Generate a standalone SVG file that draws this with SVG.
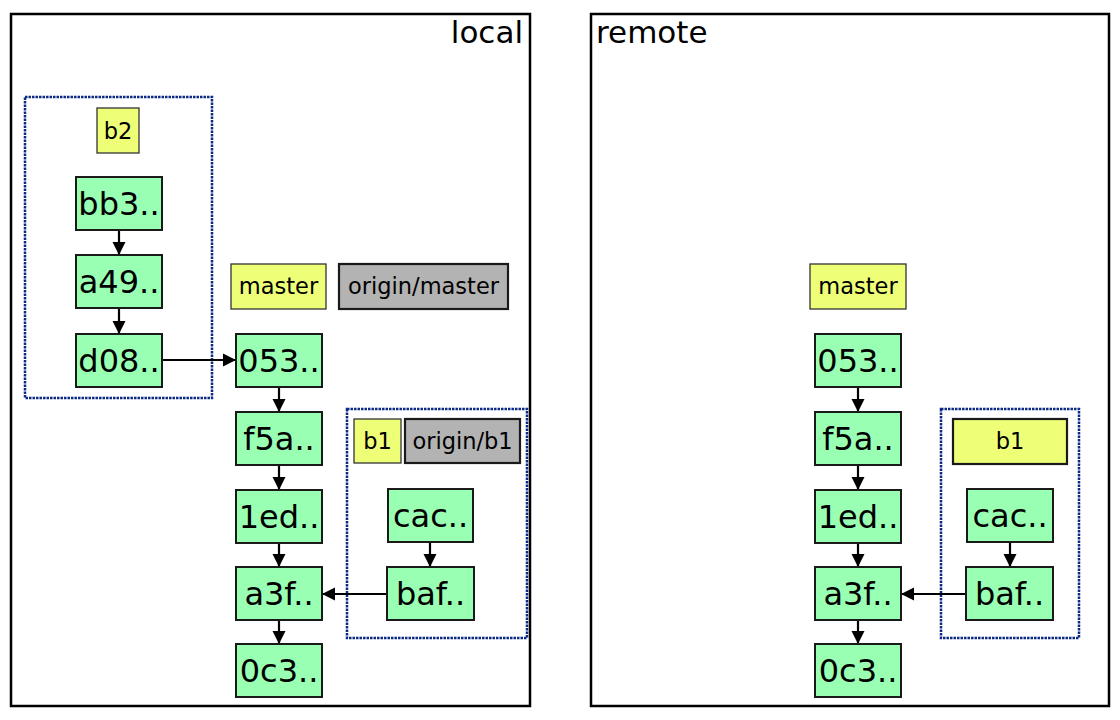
<svg xmlns="http://www.w3.org/2000/svg" width="1120" height="720" viewBox="0 0 1120 720">
<defs>
<style>
text{font-family:"DejaVu Sans","Liberation Sans",sans-serif;fill:#000}
.frame{fill:#fff;stroke:#000;stroke-width:2.5}
.title{font-size:31px}
.grp{fill:none;stroke:#0b2a85;stroke-width:2.5;stroke-dasharray:2.5,1}
.commit rect{fill:#99ffb3;stroke:#1a1a1a;stroke-width:2}
.commit text{font-size:32px;text-anchor:middle}
.lbl rect{fill:#eeff77;stroke:#333;stroke-width:1.3}
.rlbl rect{fill:#b3b3b3;stroke:#1a1a1a;stroke-width:2.2}
.blbl rect{fill:#eeff77;stroke:#1a1a1a;stroke-width:2.2}
.lbl text,.rlbl text,.blbl text{font-size:22.5px;text-anchor:middle}
.conn path{fill:none;stroke:#000;stroke-width:2.2;marker-end:url(#ah)}
</style>
<marker id="ah" markerUnits="userSpaceOnUse" markerWidth="14" markerHeight="14" viewBox="0 0 14 14" refX="13" refY="7" orient="auto">
<path d="M0,0.5 L13,7 L0,13.5 Z" fill="#000" style="marker-end:none;stroke:none"/>
</marker>
</defs>

<g id="local-frame">
<rect class="frame" x="11" y="14" width="519" height="692"/>
<text class="title" x="523" y="43" text-anchor="end">local</text>
</g>
<g id="remote-frame">
<rect class="frame" x="591" y="14" width="518" height="692"/>
<text class="title" x="596" y="43">remote</text>
</g>

<g id="local-b2-group"><rect class="grp" x="25" y="97" width="187" height="301"/></g>
<g id="local-b1-group"><rect class="grp" x="347" y="409" width="180" height="229"/></g>
<g id="remote-b1-group"><rect class="grp" x="941" y="409" width="138" height="229"/></g>

<g class="conn" id="connectors">
<path d="M119,230 V255"/>
<path d="M119,308 V334"/>
<path d="M162,360 H236"/>
<path d="M279,387 V412"/>
<path d="M279,465 V490"/>
<path d="M279,543 V567"/>
<path d="M279,620 V644"/>
<path d="M430,542 V567"/>
<path d="M387,594 H322"/>
<path d="M858,387 V412"/>
<path d="M858,465 V490"/>
<path d="M858,543 V567"/>
<path d="M858,620 V644"/>
<path d="M1010,542 V567"/>
<path d="M966,594 H901"/>
</g>

<g class="lbl" id="l-b2"><rect x="97" y="108" width="42" height="45"/><text x="118" y="138.5">b2</text></g>
<g class="lbl" id="l-master"><rect x="231" y="264" width="95" height="45"/><text x="278.5" y="294">master</text></g>
<g class="rlbl" id="l-origin-master"><rect x="339" y="264" width="169" height="45"/><text x="423.5" y="294">origin/master</text></g>
<g class="lbl" id="l-b1"><rect x="354" y="419" width="47" height="44"/><text x="377.5" y="449">b1</text></g>
<g class="rlbl" id="l-origin-b1"><rect x="405" y="419" width="115" height="44"/><text x="462.5" y="449">origin/b1</text></g>

<g class="commit" id="l-bb3"><rect x="76" y="177" width="86" height="53"/><text x="119" y="215">bb3..</text></g>
<g class="commit" id="l-a49"><rect x="76" y="255" width="86" height="53"/><text x="119" y="293">a49..</text></g>
<g class="commit" id="l-d08"><rect x="76" y="334" width="86" height="53"/><text x="119" y="372">d08..</text></g>
<g class="commit" id="l-053"><rect x="236" y="334" width="86" height="53"/><text x="279" y="372">053..</text></g>
<g class="commit" id="l-f5a"><rect x="236" y="412" width="86" height="53"/><text x="279" y="450">f5a..</text></g>
<g class="commit" id="l-1ed"><rect x="236" y="490" width="86" height="53"/><text x="279" y="528">1ed..</text></g>
<g class="commit" id="l-a3f"><rect x="236" y="567" width="86" height="53"/><text x="279" y="605">a3f..</text></g>
<g class="commit" id="l-0c3"><rect x="236" y="644" width="86" height="53"/><text x="279" y="682">0c3..</text></g>
<g class="commit" id="l-cac"><rect x="388" y="489" width="85" height="53"/><text x="430.5" y="527">cac..</text></g>
<g class="commit" id="l-baf"><rect x="387" y="567" width="87" height="53"/><text x="430.5" y="605">baf..</text></g>

<g class="lbl" id="r-master"><rect x="810" y="264" width="96" height="45"/><text x="858" y="294">master</text></g>
<g class="blbl" id="r-b1"><rect x="953" y="419" width="114" height="45"/><text x="1010" y="449">b1</text></g>

<g class="commit" id="r-053"><rect x="815" y="334" width="86" height="53"/><text x="858" y="372">053..</text></g>
<g class="commit" id="r-f5a"><rect x="815" y="412" width="86" height="53"/><text x="858" y="450">f5a..</text></g>
<g class="commit" id="r-1ed"><rect x="815" y="490" width="86" height="53"/><text x="858" y="528">1ed..</text></g>
<g class="commit" id="r-a3f"><rect x="815" y="567" width="86" height="53"/><text x="858" y="605">a3f..</text></g>
<g class="commit" id="r-0c3"><rect x="815" y="644" width="86" height="53"/><text x="858" y="682">0c3..</text></g>
<g class="commit" id="r-cac"><rect x="967" y="489" width="86" height="53"/><text x="1010" y="527">cac..</text></g>
<g class="commit" id="r-baf"><rect x="966" y="567" width="87" height="53"/><text x="1009.5" y="605">baf..</text></g>
</svg>
